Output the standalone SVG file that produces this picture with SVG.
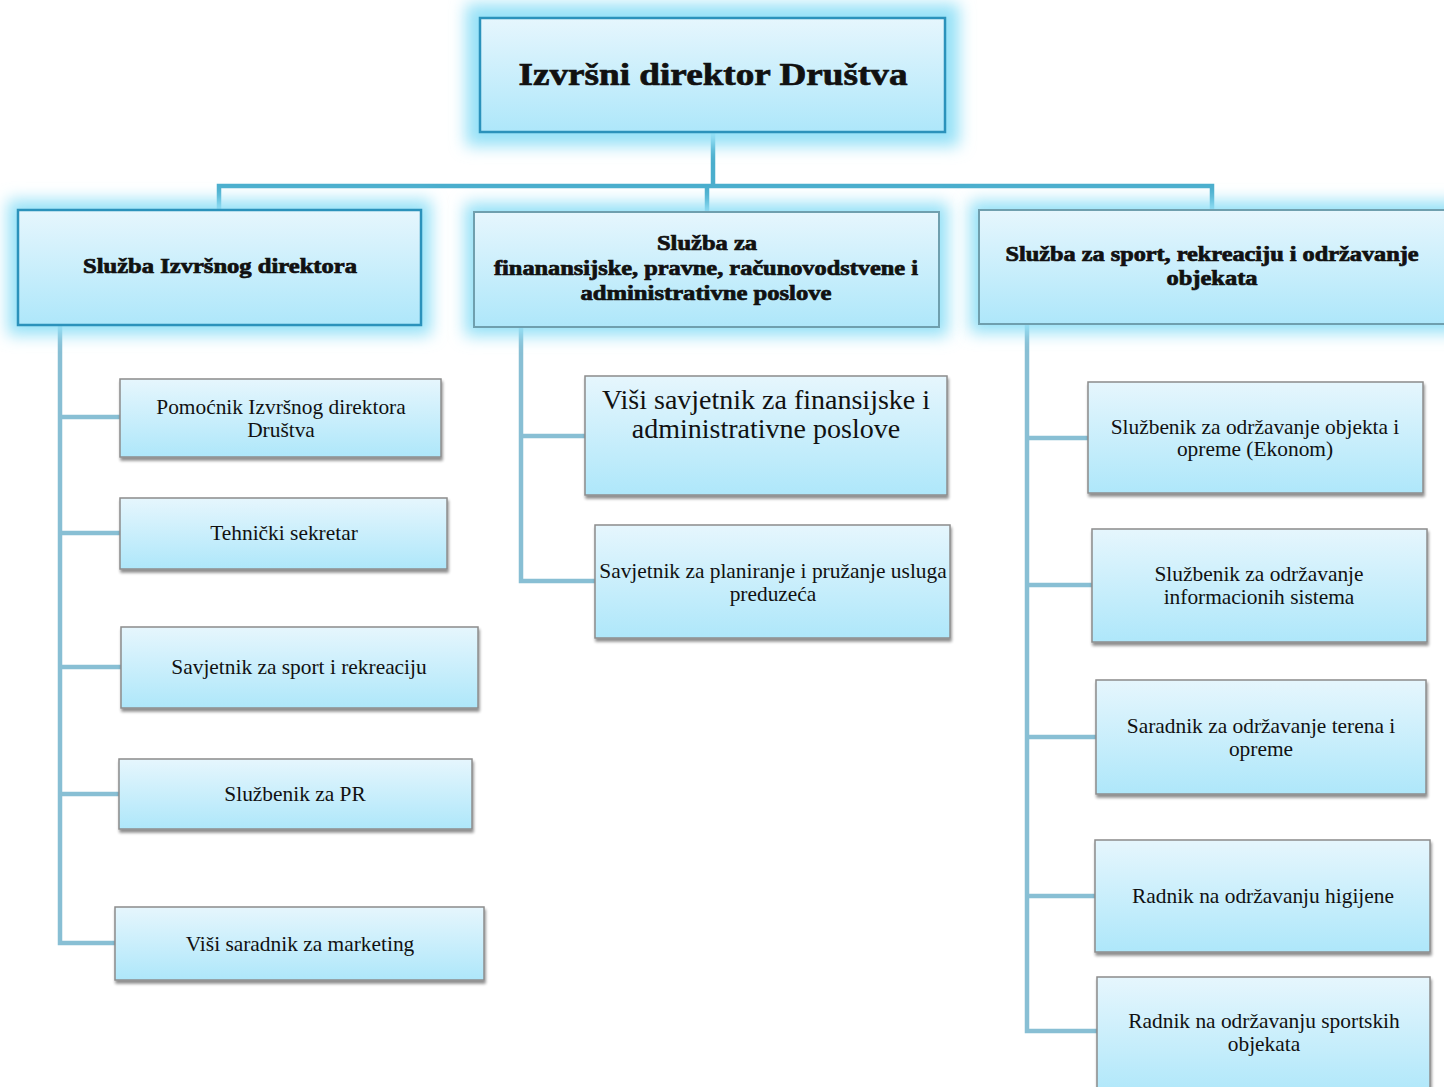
<svg xmlns="http://www.w3.org/2000/svg" width="1444" height="1087" viewBox="0 0 1444 1087">
<defs>
<linearGradient id="g" x1="0" y1="0" x2="0" y2="1">
<stop offset="0" stop-color="#e6f6fd"/>
<stop offset="1" stop-color="#aee7fa"/>
</linearGradient>
<filter id="glow" x="-20%" y="-30%" width="140%" height="160%">
<feGaussianBlur stdDeviation="8"/>
</filter>
<filter id="shadow" x="-10%" y="-10%" width="120%" height="130%">
<feGaussianBlur in="SourceAlpha" stdDeviation="1.5"/>
<feOffset dx="1" dy="3" result="o"/>
<feComponentTransfer><feFuncA type="linear" slope="0.45"/></feComponentTransfer>
<feMerge><feMergeNode/><feMergeNode in="SourceGraphic"/></feMerge>
</filter>
</defs>
<style>
.glow{fill:#95e1f7;filter:url(#glow)}
.hb{fill:url(#g);stroke:#2b92bb;stroke-width:2.5}
.hb2{fill:url(#g);stroke:#6f9fae;stroke-width:2}
.cb{fill:url(#g);stroke:#8c8c8c;stroke-width:1.5;filter:url(#shadow)}
.t{font-family:"Liberation Serif","Times New Roman",serif;font-size:21.4px;fill:#111;text-anchor:middle}
.big{font-size:28px}
.tb{font-family:"Liberation Serif","Times New Roman",serif;font-weight:bold;fill:#111;stroke:#111;stroke-width:0.7px;text-anchor:middle}
.c1{stroke:#4aaecd;stroke-width:4.5;fill:none}
.c2{stroke:#88bfd4;stroke-width:4.5;fill:none}
</style>

<g id="connectors">
<path class="c1" d="M713 132 V186 M219 210 V186 H1212 V210 M707 186 V212"/>
<path class="c2" d="M60 325 V943 H115 M60 417 H120 M60 533 H120 M60 667 H121 M60 794 H119"/>
<path class="c2" d="M521 327 V581 H595 M521 436 H585"/>
<path class="c2" d="M1027 324 V1031 H1097 M1027 438 H1088 M1027 585 H1092 M1027 737 H1096 M1027 896 H1095"/>
</g>

<g id="ceo">
<rect class="glow" x="466" y="4" width="493" height="142"/>
<rect class="hb" x="480" y="18" width="465" height="114"/>
<text class="tb" x="713" y="85" font-size="32" textLength="389" lengthAdjust="spacingAndGlyphs">Izvršni direktor Društva</text>
</g>

<g id="sluzba-izvrsnog">
<rect class="glow" x="8" y="200" width="423" height="135"/>
<rect class="hb" x="18" y="210" width="403" height="115"/>
<text class="tb" x="220" y="273" font-size="20" textLength="274" lengthAdjust="spacingAndGlyphs">Služba Izvršnog direktora</text>
</g>

<g id="sluzba-finansije">
<rect class="glow" x="465" y="203" width="483" height="133"/>
<rect class="hb2" x="474" y="212" width="465" height="115"/>
<text class="tb" x="707" y="250" font-size="20" textLength="100" lengthAdjust="spacingAndGlyphs">Služba za</text>
<text class="tb" x="706" y="275" font-size="20" textLength="424" lengthAdjust="spacingAndGlyphs">finanansijske, pravne, računovodstvene i</text>
<text class="tb" x="706" y="300" font-size="20" textLength="251" lengthAdjust="spacingAndGlyphs">administrativne poslove</text>
</g>

<g id="sluzba-sport">
<rect class="glow" x="970" y="201" width="492" height="132"/>
<rect class="hb2" x="979" y="210" width="475" height="114"/>
<text class="tb" x="1212" y="261" font-size="20" textLength="413" lengthAdjust="spacingAndGlyphs">Služba za sport, rekreaciju i održavanje</text>
<text class="tb" x="1212" y="285" font-size="20" textLength="91" lengthAdjust="spacingAndGlyphs">objekata</text>
</g>

<g id="pomocnik">
<rect class="cb" x="120" y="379" width="321" height="78"/>
<text class="t" x="281" y="414">Pomoćnik Izvršnog direktora</text>
<text class="t" x="281" y="437">Društva</text>
</g>
<g id="tehnicki">
<rect class="cb" x="120" y="498" width="327" height="71"/>
<text class="t" x="284" y="540">Tehnički sekretar</text>
</g>
<g id="savjetnik-sport">
<rect class="cb" x="121" y="627" width="357" height="81"/>
<text class="t" x="299" y="674">Savjetnik za sport i rekreaciju</text>
</g>
<g id="pr">
<rect class="cb" x="119" y="759" width="353" height="70"/>
<text class="t" x="295" y="801">Službenik za PR</text>
</g>
<g id="marketing">
<rect class="cb" x="115" y="907" width="369" height="73"/>
<text class="t" x="300" y="951">Viši saradnik za marketing</text>
</g>

<g id="visi-savjetnik">
<rect class="cb" x="585" y="376" width="362" height="119"/>
<text class="t big" x="766" y="409">Viši savjetnik za finansijske i</text>
<text class="t big" x="766" y="438">administrativne poslove</text>
</g>
<g id="savjetnik-planiranje">
<rect class="cb" x="595" y="525" width="355" height="113"/>
<text class="t" x="773" y="578">Savjetnik za planiranje i pružanje usluga</text>
<text class="t" x="773" y="601">preduzeća</text>
</g>

<g id="ekonom">
<rect class="cb" x="1088" y="382" width="335" height="111"/>
<text class="t" x="1255" y="434">Službenik za održavanje objekta i</text>
<text class="t" x="1255" y="456">opreme (Ekonom)</text>
</g>
<g id="informacioni">
<rect class="cb" x="1092" y="529" width="335" height="113"/>
<text class="t" x="1259" y="581">Službenik za održavanje</text>
<text class="t" x="1259" y="604">informacionih sistema</text>
</g>
<g id="tereni">
<rect class="cb" x="1096" y="680" width="330" height="114"/>
<text class="t" x="1261" y="733">Saradnik za održavanje terena i</text>
<text class="t" x="1261" y="756">opreme</text>
</g>
<g id="higijena">
<rect class="cb" x="1095" y="840" width="335" height="112"/>
<text class="t" x="1263" y="903">Radnik na održavanju higijene</text>
</g>
<g id="sportski-objekti">
<rect class="cb" x="1097" y="977" width="333" height="120"/>
<text class="t" x="1264" y="1028">Radnik na održavanju sportskih</text>
<text class="t" x="1264" y="1051">objekata</text>
</g>
</svg>
